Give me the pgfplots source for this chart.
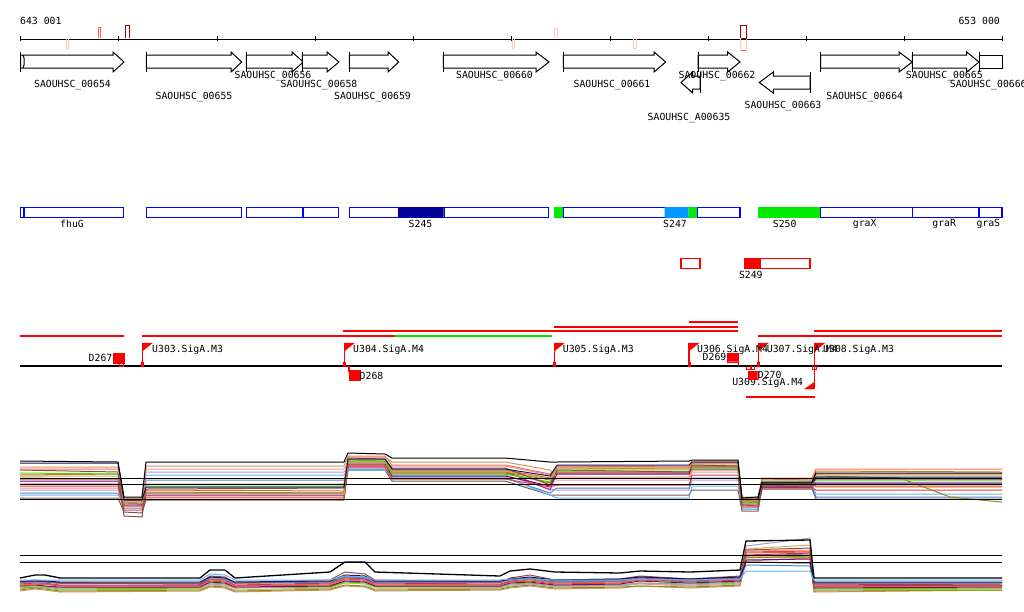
\documentclass[border=0pt]{standalone}
\usepackage{pgfplots}
\pgfplotsset{compat=1.18}
\usepackage{fontspec}
\newfontfamily\monof{DejaVu Sans Mono}

\definecolor{gblue}{RGB}{0,0,255}
\definecolor{navyf}{RGB}{0,0,150}
\definecolor{skyf}{RGB}{0,153,255}
\definecolor{greenf}{RGB}{0,235,0}
\definecolor{tpale}{RGB}{255,205,185}
\definecolor{torange}{RGB}{245,100,70}
\definecolor{tdark}{RGB}{165,0,0}
% expression colours
\definecolor{cbrown}{RGB}{150,75,60}
\definecolor{corange}{RGB}{220,110,40}
\definecolor{colive}{RGB}{140,140,30}
\definecolor{clime}{RGB}{60,220,0}
\definecolor{cpurple}{RGB}{128,0,128}
\definecolor{cmag}{RGB}{200,40,130}
\definecolor{clblue}{RGB}{100,180,240}
\definecolor{cpink}{RGB}{240,150,150}
\definecolor{clpurp}{RGB}{180,150,210}
\definecolor{ctan}{RGB}{210,150,100}
\definecolor{cred}{RGB}{230,60,60}
\definecolor{cnavy}{RGB}{20,20,100}
\definecolor{cdor}{RGB}{190,90,20}
\definecolor{ckhaki}{RGB}{200,180,100}
\definecolor{csteel}{RGB}{80,130,200}
\definecolor{cgbr}{RGB}{120,90,80}
\definecolor{csalm}{RGB}{240,120,90}

\tikzset{lbl/.style={font=\monof\fontsize{9.8}{11}\selectfont, inner sep=0pt, text=black}}

\begin{document}
\begin{tikzpicture}
\begin{axis}[
  scale only axis, width=1024pt, height=611pt,
  xmin=0, xmax=1024, ymin=0, ymax=611, y dir=reverse,
  hide axis, unbounded coords=jump,
  every axis plot/.append style={line join=miter},
  ex/.style={line width=1pt},
]
% ---- coordinate ruler
\addplot[black, line width=1pt] coordinates {(20,39)(1002,39)};
\addplot[black, line width=1pt] coordinates {(20,36)(20,41)(20,nan)(118,36)(118,41)(118,nan)(217,36)(217,41)(217,nan)(315,36)(315,41)(315,nan)(413,36)(413,41)(413,nan)(511,36)(511,41)(511,nan)(610,36)(610,41)(610,nan)(708,36)(708,41)(708,nan)(806,36)(806,41)(806,nan)(904,36)(904,41)(904,nan)(1002,36)(1002,41)};
\node[lbl, anchor=west] at (axis cs:20,20.5) {643 001};
\node[lbl, anchor=east] at (axis cs:1000,20.5) {653 000};
% small tiles on the ruler
\addplot[tpale, line width=0.8pt] coordinates {(66.7,39)(66.7,48)(68.7,48)(68.7,39)};
\addplot[torange, line width=0.8pt] coordinates {(98,38.3)(98,27.3)(100.7,27.3)(100.7,38.3)};
\addplot[tdark, line width=0.9pt] coordinates {(125,38.3)(125,25)(129.7,25)(129.7,38.3)};
\addplot[tpale, line width=0.8pt] coordinates {(512,39)(512,48)(514.7,48)(514.7,39)};
\addplot[tpale, line width=0.8pt] coordinates {(554,38.3)(554,28.3)(557.3,28.3)(557.3,38.3)};
\addplot[tpale, line width=0.8pt] coordinates {(633.7,39)(633.7,48)(636.3,48)(636.3,39)};
\addplot[tdark, line width=0.9pt] coordinates {(740.7,38.3)(740.7,25)(746,25)(746,38.3)(740.7,38.3)};
\addplot[tpale, line width=0.8pt] coordinates {(740.7,39)(740.7,50)(746,50)(746,39)};
\addplot[torange, line width=1pt] coordinates {(740.7,50)(746,50)};

% ---- genes (forward arrows)
\addplot[black, line width=1pt, fill=white] coordinates {(20.7,55)(113,55)(113,52)(124,62)(113,72)(113,68)(20.7,68)(20.7,55)};
\addplot[black, line width=1.2pt] coordinates {(20.7,52)(20.7,72)};
\addplot[black, line width=1pt] coordinates {(23,55)(24,58)(24,65)(23,68)};
\addplot[black, line width=1pt, fill=white] coordinates {(146.3,55)(231,55)(231,52)(241.7,62)(231,72)(231,68)(146.3,68)(146.3,55)};
\addplot[black, line width=1pt] coordinates {(146.3,52)(146.3,72)};
\addplot[black, line width=1pt, fill=white] coordinates {(246.3,55)(292,55)(292,52)(303.3,62)(292,72)(292,68)(246.3,68)(246.3,55)};
\addplot[black, line width=1pt] coordinates {(246.3,52)(246.3,72)};
\addplot[black, line width=1pt, fill=white] coordinates {(302.3,55)(327,55)(327,52)(339,62)(327,72)(327,68)(302.3,68)(302.3,55)};
\addplot[black, line width=1pt] coordinates {(302.3,52)(302.3,72)};
\addplot[black, line width=1pt, fill=white] coordinates {(349.3,55)(388,55)(388,52)(398.7,62)(388,72)(388,68)(349.3,68)(349.3,55)};
\addplot[black, line width=1pt] coordinates {(349.3,52)(349.3,72)};
\addplot[black, line width=1pt, fill=white] coordinates {(443.3,55)(536,55)(536,52)(549,62)(536,72)(536,68)(443.3,68)(443.3,55)};
\addplot[black, line width=1pt] coordinates {(443.3,52)(443.3,72)};
\addplot[black, line width=1pt, fill=white] coordinates {(563.3,55)(654,55)(654,52)(665.7,62)(654,72)(654,68)(563.3,68)(563.3,55)};
\addplot[black, line width=1pt] coordinates {(563.3,52)(563.3,72)};
\addplot[black, line width=1pt, fill=white] coordinates {(698,55)(727.7,55)(727.7,52)(740,62)(727.7,72)(727.7,68)(698,68)(698,55)};
\addplot[black, line width=1pt] coordinates {(698,52)(698,72)};
\addplot[black, line width=1pt, fill=white] coordinates {(820.7,55)(899,55)(899,52)(912.3,62)(899,72)(899,68)(820.7,68)(820.7,55)};
\addplot[black, line width=1pt] coordinates {(820.7,52)(820.7,72)};
\addplot[black, line width=1pt, fill=white] coordinates {(912.3,55)(966.7,55)(966.7,52)(979,62)(966.7,72)(966.7,68)(912.3,68)(912.3,55)};
\addplot[black, line width=1pt] coordinates {(912.3,52)(912.3,72)};
\addplot[black, line width=1pt, fill=white] coordinates {(979,55)(1002,55)(1002,68)(979,68)(979,55)};
\addplot[black, line width=1pt] coordinates {(979,52)(979,72)};
% reverse genes
\addplot[black, line width=1pt, fill=white] coordinates {(700,76)(692.7,76)(692.7,72)(681,82.5)(692.7,93)(692.7,89)(700,89)(700,76)};
\addplot[black, line width=1pt] coordinates {(700,72)(700,93)};
\addplot[black, line width=1pt, fill=white] coordinates {(810,76)(773.3,76)(773.3,72)(759.3,82.5)(773.3,93)(773.3,89)(810,89)(810,76)};
\addplot[black, line width=1pt] coordinates {(810,72)(810,93)};
% gene labels
\node[lbl] at (axis cs:72.5,85) {SAOUHSC\_00654};
\node[lbl] at (axis cs:194,97) {SAOUHSC\_00655};
\node[lbl] at (axis cs:273,76) {SAOUHSC\_00656};
\node[lbl] at (axis cs:319,85) {SAOUHSC\_00658};
\node[lbl] at (axis cs:372.5,97) {SAOUHSC\_00659};
\node[lbl] at (axis cs:494.5,76) {SAOUHSC\_00660};
\node[lbl] at (axis cs:612,85) {SAOUHSC\_00661};
\node[lbl] at (axis cs:717,76) {SAOUHSC\_00662};
\node[lbl] at (axis cs:689,118) {SAOUHSC\_A00635};
\node[lbl] at (axis cs:783,106) {SAOUHSC\_00663};
\node[lbl] at (axis cs:864.7,97) {SAOUHSC\_00664};
\node[lbl] at (axis cs:944.3,76) {SAOUHSC\_00665};
\node[lbl, anchor=west] at (axis cs:949.7,85) {SAOUHSC\_00666};

% ---- feature boxes
\addplot[gblue, line width=1.3pt, fill=white] coordinates {(20.7,207.3)(123.7,207.3)(123.7,217.3)(20.7,217.3)(20.7,207.3)};
\addplot[gblue, line width=1.6pt] coordinates {(24,207.3)(24,217.3)};
\addplot[gblue, line width=1.3pt, fill=white] coordinates {(146.3,207.3)(241.7,207.3)(241.7,217.3)(146.3,217.3)(146.3,207.3)};
\addplot[gblue, line width=1.3pt, fill=white] coordinates {(246.3,207.3)(338.7,207.3)(338.7,217.3)(246.3,217.3)(246.3,207.3)};
\addplot[gblue, line width=1.6pt] coordinates {(303,207.3)(303,217.3)};
\addplot[gblue, line width=1.3pt, fill=white] coordinates {(349.3,207.3)(548.7,207.3)(548.7,217.3)(349.3,217.3)(349.3,207.3)};
\addplot[draw=navyf, fill=navyf] coordinates {(398.3,207.3)(443.7,207.3)(443.7,217.3)(398.3,217.3)(398.3,207.3)};
\addplot[draw=greenf, fill=greenf] coordinates {(554,207.3)(563.3,207.3)(563.3,217.3)(554,217.3)(554,207.3)};
\addplot[gblue, line width=1.3pt, fill=white] coordinates {(563.3,207.3)(697.7,207.3)(697.7,217.3)(563.3,217.3)(563.3,207.3)};
\addplot[draw=skyf, fill=skyf] coordinates {(664.7,207.3)(688.7,207.3)(688.7,217.3)(664.7,217.3)(664.7,207.3)};
\addplot[draw=greenf, fill=greenf] coordinates {(688.7,207.3)(697,207.3)(697,217.3)(688.7,217.3)(688.7,207.3)};
\addplot[gblue, line width=1.3pt, fill=white] coordinates {(697.7,207.3)(740,207.3)(740,217.3)(697.7,217.3)(697.7,207.3)};
\addplot[draw=greenf, fill=greenf] coordinates {(758.3,207.3)(820.7,207.3)(820.7,217.3)(758.3,217.3)(758.3,207.3)};
\addplot[gblue, line width=1.3pt, fill=white] coordinates {(820.7,207.3)(912.3,207.3)(912.3,217.3)(820.7,217.3)(820.7,207.3)};
\addplot[gblue, line width=1.3pt, fill=white] coordinates {(912.3,207.3)(979,207.3)(979,217.3)(912.3,217.3)(912.3,207.3)};
\addplot[gblue, line width=1.3pt, fill=white] coordinates {(979,207.3)(1002,207.3)(1002,217.3)(979,217.3)(979,207.3)};
\node[lbl] at (axis cs:72,223.5) {fhuG};
\node[lbl] at (axis cs:420.5,223.5) {S245};
\node[lbl] at (axis cs:675,223.5) {S247};
\node[lbl] at (axis cs:784.7,223.5) {S250};
\node[lbl] at (axis cs:864.7,223.5) {graX};
\node[lbl] at (axis cs:944.2,223.5) {graR};
\node[lbl] at (axis cs:988.3,223.5) {graS};

% ---- red features
\addplot[red, line width=1.3pt] coordinates {(681,258.3)(700,258.3)(700,268.3)(681,268.3)(681,258.3)};
\addplot[red, line width=1.3pt, fill=white] coordinates {(744.3,258.3)(810,258.3)(810,268.3)(744.3,268.3)(744.3,258.3)};
\addplot[draw=red, fill=red] coordinates {(744.3,258.3)(760,258.3)(760,268.3)(744.3,268.3)(744.3,258.3)};
\node[lbl] at (axis cs:750.8,275) {S249};

% ---- transcripts
\addplot[red, line width=1.3pt] coordinates {(20,336)(124,336)};
\addplot[red, line width=1.3pt] coordinates {(142,336)(395,336)};
\addplot[greenf, line width=1.3pt] coordinates {(395,336)(552,336)};
\addplot[red, line width=1.3pt] coordinates {(758.3,336)(1002,336)};
\addplot[red, line width=1.3pt] coordinates {(343.3,331)(738.3,331)};
\addplot[red, line width=1.3pt] coordinates {(814.3,331)(1002,331)};
\addplot[red, line width=1.3pt] coordinates {(554,327)(738.3,327)};
\addplot[red, line width=1.3pt] coordinates {(688.7,322)(738.3,322)};
\addplot[red, line width=1.3pt] coordinates {(746,397)(814.7,397)};

\addplot[black, line width=1.3pt] coordinates {(20,366)(1002,366)};

% promoters (flags)
\addplot[red, line width=1.3pt] coordinates {(142.3,366)(142.3,343)(142.3,nan)(344.3,366)(344.3,343)(344.3,nan)(554.3,366)(554.3,343)(554.3,nan)(689,366)(689,343)(689,nan)(758.3,366)(758.3,343)(758.3,nan)(814.7,366)(814.7,343)(814.7,nan)(814.7,366)(814.7,389)};
\addplot[draw=red, fill=red] coordinates {(142.3,343)(152.3,343)(142.3,351)(142.3,343)};
\addplot[draw=red, fill=red] coordinates {(344.3,343)(354.3,343)(344.3,351)(344.3,343)};
\addplot[draw=red, fill=red] coordinates {(554.3,343)(564.3,343)(554.3,351)(554.3,343)};
\addplot[draw=red, fill=red] coordinates {(689,343)(699,343)(689,351)(689,343)};
\addplot[draw=red, fill=red] coordinates {(758.3,343)(768.3,343)(758.3,351)(758.3,343)};
\addplot[draw=red, fill=red] coordinates {(814.7,343)(824.7,343)(814.7,351)(814.7,343)};
\addplot[draw=red, fill=red] coordinates {(814.7,389)(804.7,389)(814.7,382)(814.7,389)};
\addplot[draw=red, fill=red] coordinates {(141.3,362)(143.6,362)(143.6,366)(141.3,366)(141.3,362)};
\addplot[draw=red, fill=red] coordinates {(343.3,362)(345.6,362)(345.6,366)(343.3,366)(343.3,362)};
\addplot[draw=red, fill=red] coordinates {(553.3,362)(555.6,362)(555.6,366)(553.3,366)(553.3,362)};
\addplot[draw=red, fill=red] coordinates {(688,362)(690.3,362)(690.3,366)(688,366)(688,362)};
\addplot[draw=red, fill=red] coordinates {(757.3,362)(759.6,362)(759.6,366)(757.3,366)(757.3,362)};
\addplot[red, line width=0.8pt] coordinates {(812.7,366)(812.7,369.5)(816.2,369.5)(816.2,366)};
\node[lbl, anchor=west] at (axis cs:152,350) {U303.SigA.M3};
\node[lbl, anchor=west] at (axis cs:353,350) {U304.SigA.M4};
\node[lbl, anchor=west] at (axis cs:562.7,350) {U305.SigA.M3};
\node[lbl, anchor=west] at (axis cs:697,350) {U306.SigA.M4};
\node[lbl, anchor=west] at (axis cs:766.7,350) {U307.SigA.M4};
\node[lbl, anchor=west] at (axis cs:823,350) {U308.SigA.M3};
\node[lbl, anchor=east] at (axis cs:803.3,383.3) {U309.SigA.M4};

% terminators
\addplot[draw=red, fill=red] coordinates {(113,353.3)(124,353.3)(124,363.3)(113,363.3)(113,353.3)};
\addplot[red, line width=0.8pt] coordinates {(119.3,363.3)(119.3,366)(123.3,366)(123.3,363.3)};
\node[lbl, anchor=east] at (axis cs:112.5,358) {D267};
\addplot[red, line width=1.3pt] coordinates {(349,366)(349,372)};
\addplot[draw=red, fill=red] coordinates {(349,370.3)(360,370.3)(360,380)(349,380)(349,370.3)};
\node[lbl, anchor=west] at (axis cs:359.5,375.5) {D268};
\addplot[draw=red, fill=red] coordinates {(727,353.3)(738.3,353.3)(738.3,361.7)(727,361.7)(727,353.3)};
\addplot[red, line width=1.3pt] coordinates {(738.3,361.7)(738.3,366)};
\node[lbl, anchor=east] at (axis cs:726.5,357) {D269};
\addplot[draw=red, fill=red] coordinates {(748.3,371)(757.7,371)(757.7,379.3)(748.3,379.3)(748.3,371)};
\addplot[red, line width=0.8pt] coordinates {(746.7,366)(746.7,369.5)(750.7,369.5)(750.7,366)(750.7,nan)(751,366)(751,369.5)(754.3,369.5)(754.3,366)};
\node[lbl, anchor=west] at (axis cs:757.7,375) {D270};

% ---- expression panel 1
\addplot[cgbr, ex] coordinates {(20,498)(118,498)(124,512)(142,513)(146,500)(344,500)(348,470)(385,470)(392,481)(505,481)(550,495)(557,495)(689,495)(692,490)(738,490)(742,511)(758,511)(762,489)(812,489)(816,499)(1002,499)};
\addplot[csteel, ex] coordinates {(20,493)(118,493)(124,508)(142,508)(146,480)(344,480)(348,469)(385,469)(392,478)(505,478)(550,493)(557,488)(689,488)(692,478)(738,478)(742,509)(758,509)(762,487)(812,487)(816,497)(1002,497)};
\addplot[clblue, ex] coordinates {(20,495)(118,495)(124,499)(142,499)(146,475)(344,475)(348,470)(385,470)(392,477)(505,477)(550,495)(557,498)(689,498)(692,486)(738,486)(742,500)(758,500)(762,484)(812,484)(816,494)(1002,494)};
\addplot[clpurp, ex] coordinates {(20,490)(118,490)(124,504)(142,504)(146,472)(344,472)(348,468)(385,468)(392,475)(505,475)(550,489)(557,490)(689,490)(692,480)(738,480)(742,506)(758,506)(762,486)(812,486)(816,482)(1002,482)};
\addplot[cpink, ex] coordinates {(20,488)(118,488)(124,501)(142,501)(146,469)(344,469)(348,463)(385,463)(392,466)(505,466)(550,475)(557,480)(689,480)(692,472)(738,472)(742,499)(758,499)(762,483)(812,483)(816,487)(1002,487)};
\addplot[cred, ex] coordinates {(20,486)(118,486)(124,510)(142,510)(146,497)(344,497)(348,467)(385,467)(392,479)(505,479)(550,487)(557,485)(689,485)(692,475)(738,475)(742,507)(758,507)(762,488)(812,488)(816,490)(1002,490)};
\addplot[cmag, ex] coordinates {(20,484)(118,484)(124,505)(142,505)(146,493)(344,493)(348,466)(385,466)(392,471)(505,471)(550,490)(557,473)(689,473)(692,467)(738,467)(742,504)(758,504)(762,485)(812,485)(816,479)(1002,479)};
\addplot[cpurple, ex] coordinates {(20,481)(118,481)(124,503)(142,504)(146,495)(344,495)(348,464)(385,464)(392,476)(505,476)(550,486)(557,474)(689,474)(692,469)(738,469)(742,501)(758,501)(762,487)(812,487)(816,483)(1002,483)};
\addplot[cdor, ex] coordinates {(20,479)(118,479)(124,506)(142,506)(146,499)(344,499)(348,465)(385,465)(392,473)(505,473)(550,483)(557,472)(689,472)(692,466)(738,466)(742,502)(758,502)(762,485)(812,485)(816,486)(1002,486)};
\addplot[colive, ex] coordinates {(20,478)(118,479)(124,502)(142,503)(146,492)(344,493)(348,462)(385,462)(392,472)(505,472)(550,480)(557,468)(689,469)(692,466)(738,466)(742,502)(758,502)(762,484)(812,484)(816,476)(900,478)(950,497)(1002,502)};
\addplot[ckhaki, ex] coordinates {(20,476)(118,476)(124,503)(142,503)(146,494)(344,494)(348,462)(385,462)(392,471)(505,471)(550,479)(557,469)(689,469)(692,464)(738,464)(742,501)(758,501)(762,484)(812,484)(816,475)(1002,475)};
\addplot[corange, ex] coordinates {(20,475)(118,474)(124,500)(142,501)(146,490)(344,491)(348,460)(385,461)(392,470)(505,470)(550,478)(557,466)(689,467)(692,463)(738,463)(742,500)(758,501)(762,479)(812,480)(816,471)(1002,472)};
\addplot[clime, ex] coordinates {(20,473)(118,474)(124,499)(142,499)(146,486)(344,486)(348,461)(385,461)(392,474)(505,474)(550,482)(557,471)(689,471)(692,468)(738,468)(742,503)(758,503)(762,482)(812,482)(816,480)(1002,480)};
\addplot[cbrown, ex] coordinates {(20,470)(118,472)(124,516)(142,517)(146,489)(344,488)(348,458)(385,459)(392,468)(505,468)(550,485)(557,470)(689,472)(692,465)(738,466)(742,505)(758,506)(762,486)(812,487)(816,478)(1002,479)};
\addplot[csalm, ex] coordinates {(20,469)(118,469)(124,498)(142,498)(146,484)(344,484)(348,456)(385,456)(392,465)(505,465)(550,474)(557,467)(689,467)(692,461)(738,461)(742,498)(758,498)(762,478)(812,478)(816,469)(1002,469)};
\addplot[ctan, ex] coordinates {(20,467)(118,467)(124,498)(142,498)(146,466)(344,466)(348,457)(385,457)(392,462)(505,462)(550,470)(557,477)(689,477)(692,470)(738,470)(742,497)(758,497)(762,480)(812,480)(816,474)(1002,474)};
\addplot[cnavy, ex] coordinates {(20,463)(118,463)(124,500)(142,500)(146,487)(344,487)(348,459)(385,459)(392,469)(505,469)(550,476)(557,465)(689,465)(692,462)(738,462)(742,499)(758,499)(762,483)(812,483)(816,477)(1002,477)};
\addplot[black, line width=1pt] coordinates {(20,461)(118,462)(124,497)(142,497)(146,462)(344,462)(348,453)(385,454)(392,458)(505,458)(550,462)(557,462)(689,461)(692,460)(738,460)(742,498)(758,497)(762,482)(812,482)(816,473)(1002,473)};
\addplot[black, line width=1.3pt] coordinates {(20,478.3)(1002,478.3)};
\addplot[black, line width=1.3pt] coordinates {(20,484.3)(1002,484.3)};
\addplot[black, line width=1.3pt] coordinates {(20,499.3)(1002,499.3)};

% ---- expression panel 2
\addplot[ctan, ex] coordinates {(20,591)(35,589)(45,590)(60,592)(200,591)(210,587)(225,588)(235,592)(330,590)(345,586)(365,587)(375,591)(500,590)(510,588)(530,586)(555,589)(620,588)(640,586)(690,588)(740,586)(746,561)(810,558)(814,592)(1002,590)};
\addplot[colive, ex] coordinates {(20,590)(35,588)(45,589)(60,591)(200,590)(210,586)(225,587)(235,591)(330,589)(345,585)(365,586)(375,590)(500,589)(510,587)(530,585)(555,588)(620,587)(640,586)(690,587)(740,585)(746,556)(810,554)(814,591)(1002,590)};
\addplot[ckhaki, ex] coordinates {(20,589)(35,587)(45,588)(60,590)(200,589)(210,585)(225,586)(235,590)(330,588)(345,583)(365,584)(375,589)(500,588)(510,586)(530,584)(555,587)(620,586)(640,584)(690,586)(740,584)(746,549)(810,545)(814,590)(1002,589)};
\addplot[clime, ex] coordinates {(20,588)(35,587)(45,587)(60,589)(200,588)(210,583)(225,584)(235,588)(330,587)(345,582)(365,583)(375,587)(500,587)(510,584)(530,583)(555,586)(620,585)(640,583)(690,584)(740,582)(746,558)(810,556)(814,589)(1002,588)};
\addplot[clpurp, ex] coordinates {(20,587)(35,586)(45,586)(60,588)(200,587)(210,584)(225,585)(235,588)(330,586)(345,580)(365,581)(375,586)(500,587)(510,585)(530,584)(555,586)(620,585)(640,583)(690,585)(740,583)(746,546)(810,538)(814,587)(1002,586)};
\addplot[cpurple, ex] coordinates {(20,586)(35,585)(45,586)(60,587)(200,587)(210,582)(225,583)(235,587)(330,586)(345,581)(365,582)(375,586)(500,586)(510,583)(530,582)(555,585)(620,584)(640,581)(690,583)(740,581)(746,560)(810,559)(814,588)(1002,587)};
\addplot[cred, ex] coordinates {(20,586)(35,585)(45,584)(60,586)(200,586)(210,581)(225,582)(235,586)(330,585)(345,579)(365,580)(375,585)(500,585)(510,582)(530,581)(555,584)(620,583)(640,580)(690,582)(740,580)(746,552)(810,551)(814,586)(1002,586)};
\addplot[corange, ex] coordinates {(20,585)(35,584)(45,584)(60,586)(200,586)(210,580)(225,581)(235,586)(330,584)(345,578)(365,579)(375,584)(500,585)(510,582)(530,580)(555,583)(620,582)(640,580)(690,581)(740,579)(746,553)(810,552)(814,587)(1002,586)};
\addplot[cmag, ex] coordinates {(20,584)(35,583)(45,583)(60,585)(200,585)(210,579)(225,580)(235,585)(330,583)(345,577)(365,579)(375,583)(500,584)(510,581)(530,579)(555,582)(620,581)(640,578)(690,580)(740,578)(746,555)(810,553)(814,586)(1002,585)};
\addplot[cpink, ex] coordinates {(20,583)(35,582)(45,582)(60,584)(200,583)(210,578)(225,579)(235,584)(330,582)(345,576)(365,577)(375,582)(500,583)(510,580)(530,578)(555,581)(620,580)(640,577)(690,579)(740,577)(746,551)(810,550)(814,584)(1002,584)};
\addplot[cdor, ex] coordinates {(20,583)(35,581)(45,582)(60,583)(200,584)(210,577)(225,578)(235,583)(330,582)(345,577)(365,578)(375,582)(500,582)(510,579)(530,578)(555,581)(620,580)(640,577)(690,580)(740,578)(746,557)(810,557)(814,583)(1002,583)};
\addplot[csteel, ex] coordinates {(20,582)(35,582)(45,582)(60,583)(200,583)(210,579)(225,580)(235,583)(330,582)(345,577)(365,578)(375,582)(500,582)(510,580)(530,579)(555,582)(620,581)(640,579)(690,581)(740,579)(746,565)(810,566)(814,583)(1002,583)};
\addplot[cbrown, ex] coordinates {(20,582)(35,580)(45,581)(60,583)(200,584)(210,576)(225,577)(235,583)(330,580)(345,572)(365,574)(375,580)(500,582)(510,578)(530,575)(555,580)(620,579)(640,576)(690,579)(740,576)(746,550)(810,548)(814,584)(1002,585)};
\addplot[cnavy, ex] coordinates {(20,581)(35,581)(45,581)(60,582)(200,582)(210,577)(225,578)(235,582)(330,581)(345,575)(365,576)(375,581)(500,581)(510,579)(530,577)(555,580)(620,579)(640,577)(690,579)(740,577)(746,562)(810,563)(814,582)(1002,582)};
\addplot[clblue, ex] coordinates {(20,580)(35,580)(45,580)(60,580)(200,580)(210,574)(225,575)(235,580)(330,580)(345,576)(365,577)(375,580)(500,580)(510,579)(530,579)(555,580)(620,580)(640,579)(690,580)(740,579)(746,571)(810,571)(814,580)(1002,580)};
\addplot[black, line width=1.3pt] coordinates {(20,578)(35,575)(45,575)(60,578)(200,578)(210,570)(225,570)(235,578)(330,572)(345,562)(365,562)(375,572)(500,576)(510,571)(530,569)(555,572)(620,573)(640,571)(690,572)(740,570)(746,541)(810,540)(814,578)(1002,578)};
\addplot[black, line width=1.3pt] coordinates {(20,555.3)(1002,555.3)};
\addplot[black, line width=1.3pt] coordinates {(20,562.3)(1002,562.3)};
\end{axis}
\pgfresetboundingbox
\path (current axis.south west) rectangle (current axis.north east);
\end{tikzpicture}
\end{document}
